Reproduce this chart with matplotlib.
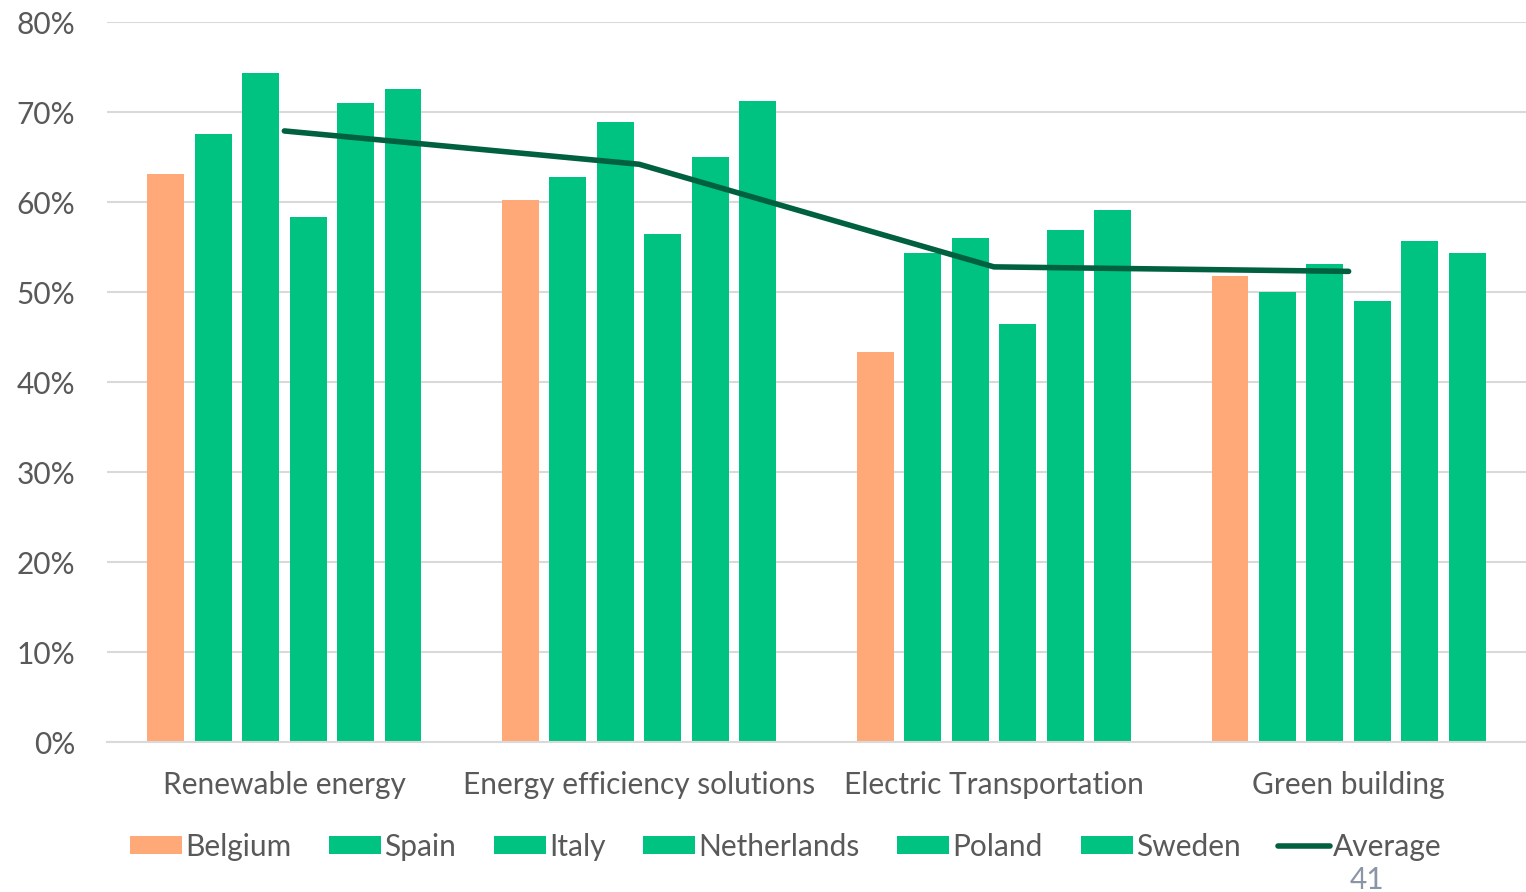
import matplotlib
matplotlib.use("Agg")
import matplotlib.pyplot as plt
import numpy as np
from matplotlib.patches import Patch
from matplotlib.lines import Line2D

categories = ["Renewable energy", "Energy efficiency solutions", "Electric Transportation", "Green building"]
countries = ["Belgium", "Spain", "Italy", "Netherlands", "Poland", "Sweden"]
belgium = [63.1, 60.2, 43.3, 51.8]
spain = [67.6, 62.8, 54.3, 50.0]
italy = [74.3, 68.9, 56.0, 53.1]
netherlands = [58.3, 56.4, 46.4, 49.0]
poland = [71.0, 65.0, 56.9, 55.7]
sweden = [72.6, 71.2, 59.1, 54.3]
average = [67.9, 64.2, 52.8, 52.3]
yticks = [0, 10, 20, 30, 40, 50, 60, 70, 80]

series = [belgium, spain, italy, netherlands, poland, sweden]
colors = ["#FFA878", "#00C281", "#00C281", "#00C281", "#00C281", "#00C281"]
text_color = "#595959"

plt.rcParams['font.family'] = ['Lato', 'DejaVu Sans']

fig = plt.figure(figsize=(15.26, 8.92), dpi=100)
ax = fig.add_axes([0.0701, 0.168, 0.9299, 0.8073])

x = np.arange(len(categories))
step = 0.1338
width = 0.104
for i, (vals, col) in enumerate(zip(series, colors)):
    ax.bar(x + (i - 2.5) * step, vals, width=width, color=col, zorder=2)
ax.plot(x, average, color="#006040", linewidth=4, solid_capstyle="round", zorder=3)

ax.set_xlim(-0.5, 3.5)
ax.set_ylim(0, 80)
ax.set_yticks(yticks)
ax.set_yticklabels([f"{t}%" for t in yticks])
ax.set_xticks(x)
ax.set_xticklabels(categories)
ax.grid(axis='y', color="#D9D9D9", linewidth=1.5, zorder=0)
ax.set_axisbelow(True)
for s in ["top", "right", "left"]:
    ax.spines[s].set_visible(False)
ax.spines["bottom"].set_color("#D9D9D9")
ax.spines["bottom"].set_linewidth(1.5)
ax.tick_params(axis='both', length=0, labelsize=21.5, labelcolor=text_color)
ax.tick_params(axis='x', pad=20.5)
ax.tick_params(axis='y', pad=23)

handles = [Patch(facecolor=c, label=n) for c, n in zip(colors, countries)]
handles.append(Line2D([0], [0], color="#006040", linewidth=4, solid_capstyle="round", label="Average"))
leg = fig.legend(handles=handles, loc="center", bbox_to_anchor=(0.515, 0.051), ncol=7,
                 frameon=False, fontsize=21.5, handlelength=1.74, handleheight=0.57,
                 handletextpad=0.1, columnspacing=1.27, labelcolor=text_color)

fig.text(0.896, 0.013, "41", fontsize=21.5, color="#8A96A6", ha="center", va="center")

fig.savefig("out.png", dpi=100)
